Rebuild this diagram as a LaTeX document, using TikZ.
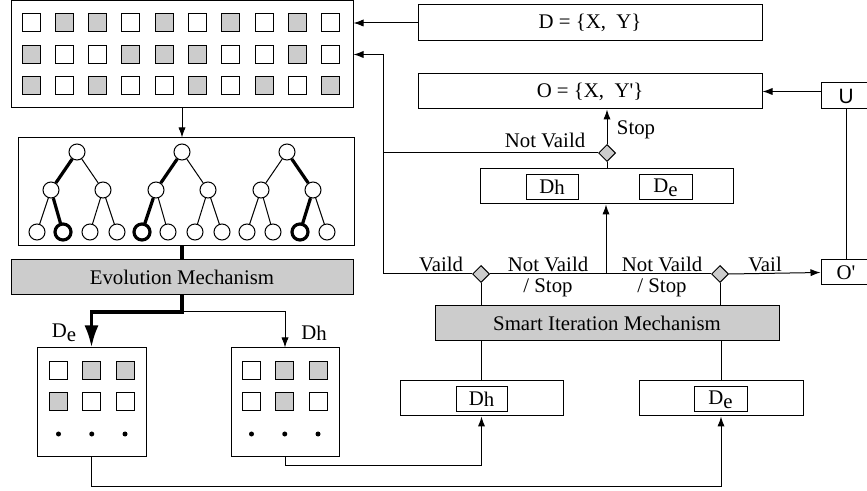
\documentclass[tikz,border=0pt]{standalone}
\usepackage{fontspec}
\setmainfont{Liberation Serif}
\setsansfont{Liberation Sans}
\usepackage{tikz}
\usetikzlibrary{positioning}
\usetikzlibrary{arrows.meta}
\usetikzlibrary{shapes.geometric}

\newcommand{\subh}{D\raisebox{-0.1ex}{h}}
\newcommand{\sube}{D\raisebox{-0.45ex}{e}}

\begin{document}
\begin{tikzpicture} [x=0.5pt, y=-0.5pt, line width=0.5pt,
            >={Latex[length=5pt,width=3.6pt]},
            font=\fontsize{10.4}{12}\selectfont, align=center]

            \tikzstyle{box} = [rectangle, draw=black, inner sep=0pt]
            \tikzstyle{c0} = [rectangle, draw=black, minimum size=9pt, inner sep=0pt]
            \tikzstyle{c1} = [c0, fill=black!20]
            \tikzstyle{mech} = [box, fill=black!20, minimum width=171pt, minimum height=17.5pt]
            \tikzstyle{choice} = [diamond, draw=black, fill=black!20, minimum size=8.5pt, inner sep=0pt]
            \tikzstyle{vertex} = [circle, draw=black, minimum size=8pt, inner sep=0pt]
            \tikzstyle{heavy} = [line width=1.6pt]
            \tikzstyle{dot} = [circle, fill=black, minimum size=2.5pt, inner sep=0pt]

            \useasboundingbox (0, 0) rectangle (867, 491);

            % data set
            \node[box, minimum width=171pt, minimum height=53.5pt](grid) at(182, 54.5) {};
            \foreach \row [count=\r] in {{0,1,1,0,1,0,1,0,1,0},{1,0,0,1,1,1,0,0,1,0},{1,0,1,0,0,1,0,1,0,1}}
                \foreach \f [count=\c] in \row
                    \node[c\f](g\r-\c) at({31+33.33*(\c-1)}, {23+31.5*(\r-1)}) {};

            % trees
            \node[box, minimum width=168pt, minimum height=54pt](trees) at(186, 192) {};
            \foreach \t/\cx in {1/77, 2/182, 3/287} {
                \node[vertex](t\t) at(\cx, 152) {};
                \node[vertex](t\t-a) at(\cx-26, 190) {};
                \node[vertex](t\t-b) at(\cx+26, 190) {};
                \node[vertex](t\t-aa) at(\cx-40, 232) {};
                \node[vertex](t\t-ab) at(\cx-14, 232) {};
                \node[vertex](t\t-ba) at(\cx+13, 232) {};
                \node[vertex](t\t-bb) at(\cx+40, 232) {};
                \draw (t\t) -- (t\t-a) (t\t) -- (t\t-b)
                    (t\t-a) -- (t\t-aa) (t\t-a) -- (t\t-ab)
                    (t\t-b) -- (t\t-ba) (t\t-b) -- (t\t-bb);
            }
            \draw[heavy] (t1) -- (t1-a) -- (t1-ab) (t2) -- (t2-a) -- (t2-aa) (t3) -- (t3-b) -- (t3-ba);
            \foreach \n in {t1-ab, t2-aa, t3-ba}
                \node[vertex, heavy] at(\n) {};

            \node[mech](evol) at(182, 277.5) {Evolution Mechanism};

            % subsets
            \node[box, minimum width=54.5pt, minimum height=54pt](setl) at(91.5, 402) {};
            \node[box, minimum width=54pt, minimum height=54pt](setr) at(285, 402) {};
            \foreach \row [count=\r] in {{0,1,1},{1,0,0}}
                \foreach \f [count=\c] in \row
                    \node[c\f](l\r-\c) at({58.5+33.25*(\c-1)}, {370.5+31.5*(\r-1)}) {};
            \foreach \row [count=\r] in {{0,1,1},{0,1,0}}
                \foreach \f [count=\c] in \row
                    \node[c\f](r\r-\c) at({251.5+33.25*(\c-1)}, {370.5+31.5*(\r-1)}) {};
            \foreach \c in {1, 2, 3} {
                \node[dot](ldot\c) at({58.5+33.25*(\c-1)}, 434) {};
                \node[dot](rdot\c) at({251.5+33.25*(\c-1)}, 434) {};
            }
            \node(lab-e) at(64, 333) {\sube};
            \node(lab-h) at(314, 333) {\subh};

            % right part
            \node[box, minimum width=172pt, minimum height=18pt](D) at(590, 23) {D = \{X,\ \ Y\}};
            \node[box, minimum width=172pt, minimum height=17.5pt](O) at(590, 91.5) {O = \{X,\ \ Y\textquotesingle\}};
            \node[box, minimum width=25pt, minimum height=13pt](U) at(846, 96) {\textsf{U}};
            \node[box, minimum width=25pt, minimum height=12.5pt](Op) at(846, 272.5) {O\textquotesingle};
            \node[choice](stop) at(607, 153) {};
            \node[box, minimum width=126.5pt, minimum height=17.5pt](pair) at(606.5, 186.5) {};
            \node[box, minimum width=26pt, minimum height=12.5pt](pair-h) at(552, 187.5) {\subh};
            \node[box, minimum width=26.5pt, minimum height=12.5pt](pair-e) at(665.5, 187.5) {\sube};
            \node[choice](chk-h) at(481, 274) {};
            \node[choice](chk-e) at(720, 274) {};
            \node[mech, minimum width=172pt](smart) at(607, 323.5) {Smart Iteration Mechanism};
            \node[box, minimum width=81.5pt, minimum height=17.5pt](set-h) at(481.5, 398.5) {};
            \node[box, minimum width=25.5pt, minimum height=12.5pt](set-h-in) at(481.5, 399.5) {\subh};
            \node[box, minimum width=82pt, minimum height=17.5pt](set-e) at(721, 398.5) {};
            \node[box, minimum width=26.5pt, minimum height=12.5pt](set-e-in) at(720.5, 399.5) {\sube};

            \node(nv-top) at(545, 140) {Not Vaild};
            \node(stop-lab) at(636, 130) {Stop};
            \node(vaild) at(441, 264) {Vaild};
            \node(nv-h) at(548, 264) {Not Vaild};
            \node(st-h) at(548, 288) {/ Stop};
            \node(nv-e) at(662, 264) {Not Vaild};
            \node(st-e) at(662, 288) {/ Stop};
            \node(vail) at(765, 264) {Vail};

            \coordinate (split) at(182, 312);
            \coordinate (back) at(383, 274);
            \coordinate (join) at(606, 274);

            % connectors
            \draw[->] (grid.south) -- (grid.south |- trees.north);
            \draw[heavy] (evol.north |- trees.south) -- (evol.north);
            \draw[heavy, -{Latex[length=11pt,width=7pt]}] (evol.south) -- (split) -| (setl.north);
            \draw[->] (split) -| (setr.north);
            \draw[->] (setl.south) -- ++(0, 30) -| (set-e.south);
            \draw[->] (setr.south) -- ++(0, 9) -| (set-h.south);
            \draw (set-h.north) -- (set-h.north |- smart.south);
            \draw (set-e.north) -- (set-e.north |- smart.south);
            \draw (chk-h.south) -- (chk-h.south |- smart.north);
            \draw (chk-e.south) -- (chk-e.south |- smart.north);
            \draw[->] (chk-h.west) -- (back) |- (grid.east);
            \draw (stop.west) -- (stop.west -| back);
            \draw (chk-h.east) -- (chk-e.west);
            \draw[->] (join) -- (join |- pair.south);
            \draw (stop.south) -- (stop.south |- pair.north);
            \draw[->] (stop.north) -- (stop.north |- O.south);
            \draw[->] (chk-e.east) -- (Op.west);
            \draw (Op.north) -- (U.south);
            \draw[->] (U.west |- O.east) -- (O.east);
            \draw[->] (D.west) -- (D.west -| grid.east);
       \end{tikzpicture}
\end{document}
